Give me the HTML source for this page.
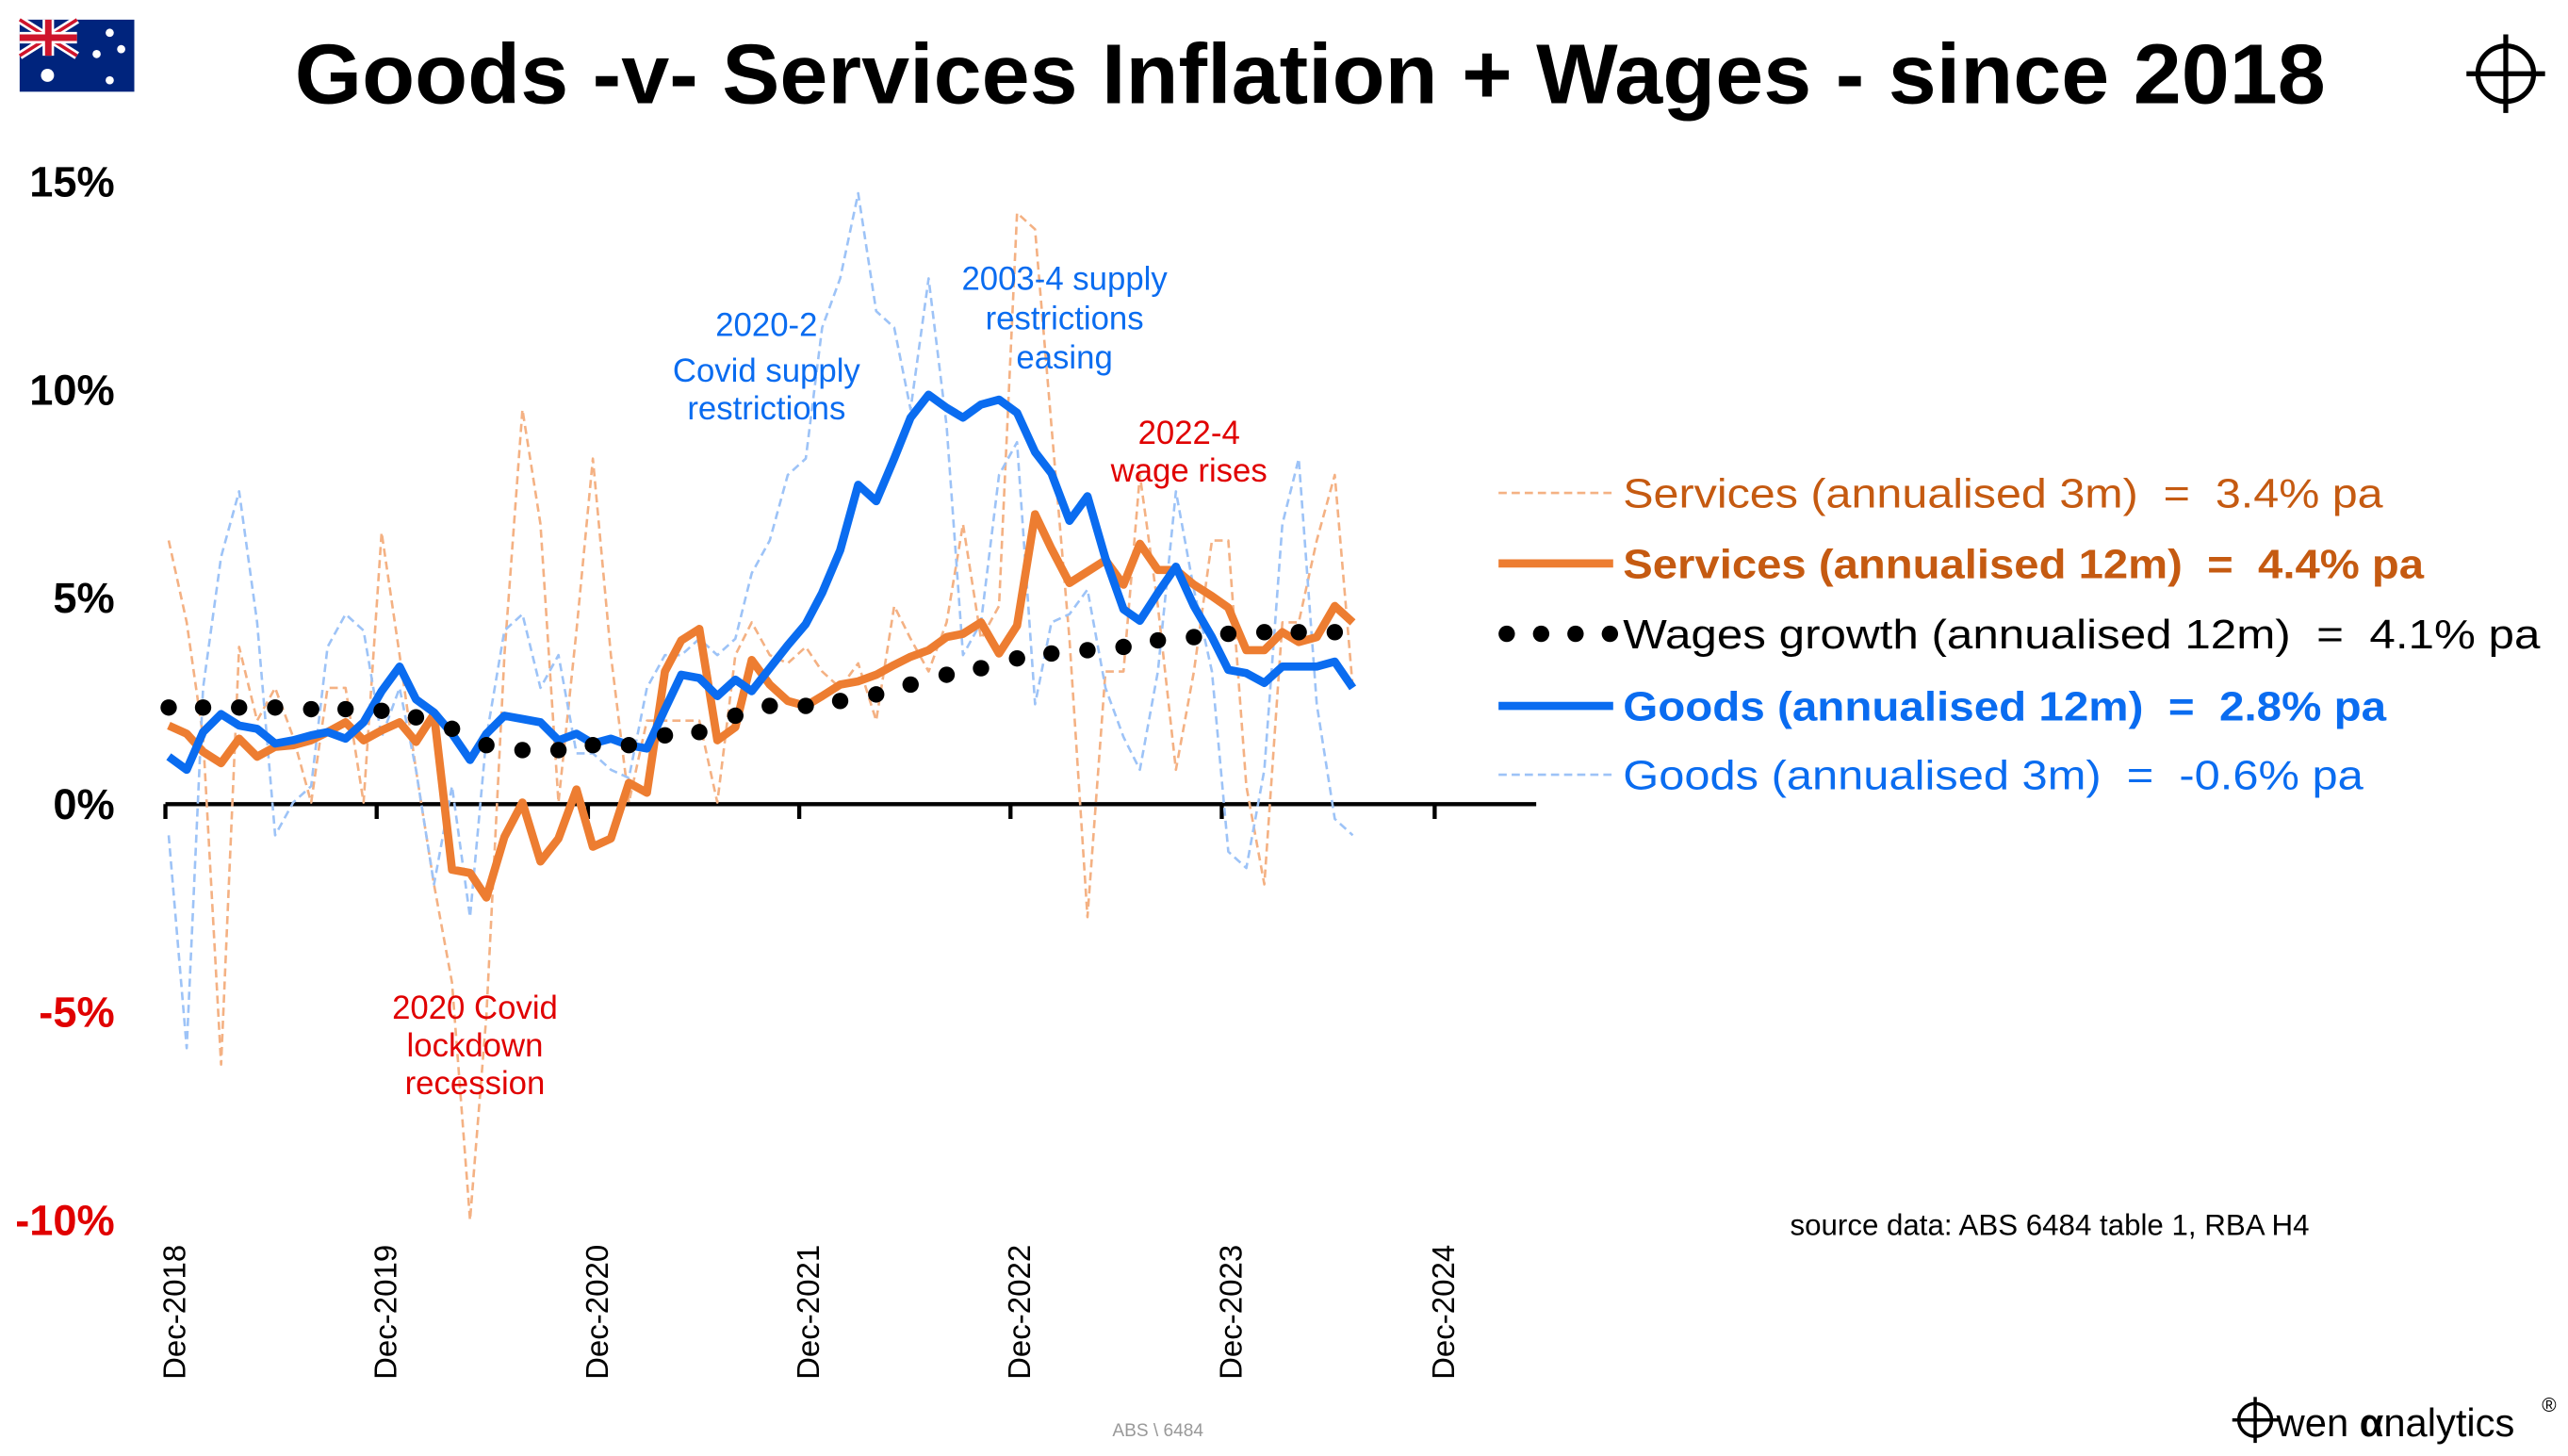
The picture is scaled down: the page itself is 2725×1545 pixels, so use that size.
<!DOCTYPE html>
<html><head><meta charset="utf-8"><style>
html,body{margin:0;padding:0;background:#fff;}
svg{display:block;}
text{white-space:pre;}
</style></head><body>
<svg width="2725" height="1545" viewBox="0 0 1568 889" xmlns="http://www.w3.org/2000/svg" font-family="'Liberation Sans', sans-serif" xml:space="preserve">
<rect width="1568" height="889" fill="#fff"/>
<g transform="translate(12,12)">
<rect width="70" height="44" fill="#00247d"/>
<path d="M0 0 L35 22 M35 0 L0 22" stroke="#fff" stroke-width="5"/>
<path d="M0 0 L35 22 M35 0 L0 22" stroke="#cf142b" stroke-width="2"/>
<path d="M17.5 0 V22 M0 11 H35" stroke="#fff" stroke-width="7"/>
<path d="M17.5 0 V22 M0 11 H35" stroke="#cf142b" stroke-width="4"/>
<g fill="#fff"><circle cx="17" cy="34" r="4"/><circle cx="55" cy="8" r="2.5"/><circle cx="47" cy="21" r="2.5"/><circle cx="62" cy="18" r="2.5"/><circle cx="55" cy="37" r="2.5"/></g>
</g>
<text x="180" y="63" font-size="52" font-weight="bold" textLength="1240" lengthAdjust="spacingAndGlyphs">Goods -v- Services Inflation + Wages - since 2018</text>
<g stroke="#000" stroke-width="3" fill="none"><circle cx="1530" cy="45" r="17"/><path d="M1506 45 H1554 M1530 21 V69"/></g>
<g font-size="26" font-weight="bold" text-anchor="end">
<text x="70" y="120">15%</text><text x="70" y="247">10%</text><text x="70" y="374">5%</text><text x="70" y="500">0%</text>
<text x="70" y="627" fill="#e00000">-5%</text><text x="70" y="754" fill="#e00000">-10%</text></g>
<g stroke="#000" stroke-width="2.5"><path d="M101 491 H938"/>
<path d="M101 491v9 M230 491v9 M359 491v9 M488 491v9 M617 491v9 M746 491v9 M876 491v9"/></g>
<g font-size="19" text-anchor="end">
<text transform="translate(113,760) rotate(-90)">Dec-2018</text>
<text transform="translate(242,760) rotate(-90)">Dec-2019</text>
<text transform="translate(371,760) rotate(-90)">Dec-2020</text>
<text transform="translate(500,760) rotate(-90)">Dec-2021</text>
<text transform="translate(629,760) rotate(-90)">Dec-2022</text>
<text transform="translate(758,760) rotate(-90)">Dec-2023</text>
<text transform="translate(888,760) rotate(-90)">Dec-2024</text></g>
<g fill="none" stroke-linejoin="round">
<polyline stroke="#f4b183" stroke-width="1.5" stroke-dasharray="5,3" points="103,330 114,380 124,450 135,650 146,395 157,440 168,420 179,450 190,490 200,420 211,420 222,490 233,325 244,400 254,470 265,540 276,600 287,745 297,620 308,400 319,250 330,320 341,490 352,385 362,280 373,400 384,490 395,440 406,440 416,440 427,440 438,490 449,400 459,380 470,400 481,405 492,395 502,410 513,420 524,405 535,440 546,370 556,390 567,410 578,380 588,320 599,390 610,370 621,130 632,140 642,260 653,390 664,560 675,410 686,410 696,290 707,370 718,470 729,410 740,330 750,330 761,480 772,540 783,380 793,380 804,330 815,290 826,420"/>
<polyline stroke="#9dc3f7" stroke-width="1.5" stroke-dasharray="5,3" points="103,510 114,640 124,420 135,340 146,300 157,380 168,510 179,490 190,480 200,395 211,375 222,385 233,450 244,420 254,470 265,540 276,480 287,560 297,450 308,385 319,375 330,420 341,400 352,460 362,460 373,470 384,475 395,420 406,400 416,400 427,390 438,400 449,390 459,350 470,330 481,290 492,280 502,200 513,170 524,118 535,190 546,200 556,250 567,170 578,260 588,400 599,380 610,290 621,270 632,430 642,380 653,375 664,360 675,420 686,450 696,470 707,410 718,300 729,360 740,410 750,520 761,530 772,470 783,320 793,280 804,430 815,500 826,510"/>
<polyline stroke="#ed7d31" stroke-width="5" points="103,443 114,448 124,459 135,466 146,451 157,462 168,456 179,455 190,452 200,447 211,441 222,452 233,446 244,441 254,453 265,436 276,531 287,533 297,548 308,511 319,490 330,526 341,512 352,482 362,517 373,512 384,478 395,484 406,410 416,391 427,384 438,452 449,444 459,403 470,418 481,428 492,431 502,425 513,418 524,416 535,412 546,406 556,401 567,397 578,389 588,387 599,380 610,399 621,382 632,314 642,335 653,356 664,349 675,342 686,357 696,332 707,348 718,348 729,357 740,364 750,371 761,397 772,397 783,386 793,392 804,389 815,370 826,380"/>
<polyline stroke="#0a6cf0" stroke-width="5" points="103,462 114,470 124,447 135,436 146,443 157,445 168,454 179,452 190,449 200,447 211,451 222,441 233,422 244,407 254,427 265,435 276,448 287,464 297,448 308,437 319,439 330,441 341,452 352,448 362,454 373,451 384,455 395,457 406,433 416,412 427,414 438,425 449,415 459,422 470,408 481,394 492,381 502,362 513,336 524,296 535,306 546,280 556,255 567,241 578,249 588,255 599,247 610,244 621,252 632,276 642,289 653,318 664,303 675,341 686,372 696,379 707,362 718,346 729,370 740,389 750,409 761,411 772,417 783,407 793,407 804,407 815,404 826,420"/>
</g>
<g fill="#000">
<circle cx="103" cy="432" r="5"/><circle cx="124" cy="432" r="5"/><circle cx="146" cy="432" r="5"/><circle cx="168" cy="432" r="5"/><circle cx="190" cy="433" r="5"/><circle cx="211" cy="433" r="5"/><circle cx="233" cy="434" r="5"/><circle cx="254" cy="438" r="5"/><circle cx="276" cy="445" r="5"/><circle cx="297" cy="455" r="5"/><circle cx="319" cy="458" r="5"/><circle cx="341" cy="458" r="5"/><circle cx="362" cy="455" r="5"/><circle cx="384" cy="455" r="5"/><circle cx="406" cy="449" r="5"/><circle cx="427" cy="447" r="5"/><circle cx="449" cy="437" r="5"/><circle cx="470" cy="431" r="5"/><circle cx="492" cy="431" r="5"/><circle cx="513" cy="428" r="5"/><circle cx="535" cy="424" r="5"/><circle cx="556" cy="418" r="5"/><circle cx="578" cy="412" r="5"/><circle cx="599" cy="408" r="5"/><circle cx="621" cy="402" r="5"/><circle cx="642" cy="399" r="5"/><circle cx="664" cy="397" r="5"/><circle cx="686" cy="395" r="5"/><circle cx="707" cy="391" r="5"/><circle cx="729" cy="389" r="5"/><circle cx="750" cy="387" r="5"/><circle cx="772" cy="386" r="5"/><circle cx="793" cy="386" r="5"/><circle cx="815" cy="386" r="5"/></g>
<g font-size="20" text-anchor="middle">
<g fill="#0a6cf0"><text x="468" y="205">2020-2</text><text x="468" y="233">Covid supply</text><text x="468" y="256">restrictions</text>
<text x="650" y="177">2003-4 supply</text><text x="650" y="201">restrictions</text><text x="650" y="225">easing</text></g>
<g fill="#e00000"><text x="726" y="271">2022-4</text><text x="726" y="294">wage rises</text>
<text x="290" y="622">2020 Covid</text><text x="290" y="645">lockdown</text><text x="290" y="668">recession</text></g></g>
<g font-size="25">
<path d="M915 301 H985" stroke="#f4b183" stroke-width="1.5" stroke-dasharray="5,3"/>
<text x="991" y="310" fill="#c55a11" textLength="464" lengthAdjust="spacingAndGlyphs">Services (annualised 3m)  =  3.4% pa</text>
<path d="M915 344 H985" stroke="#ed7d31" stroke-width="5"/>
<text x="991" y="353" fill="#c55a11" font-weight="bold" textLength="489" lengthAdjust="spacingAndGlyphs">Services (annualised 12m)  =  4.4% pa</text>
<g fill="#000"><circle cx="920" cy="387" r="5"/><circle cx="941" cy="387" r="5"/><circle cx="962" cy="387" r="5"/><circle cx="983" cy="387" r="5"/></g>
<text x="991" y="396" textLength="560" lengthAdjust="spacingAndGlyphs">Wages growth (annualised 12m)  =  4.1% pa</text>
<path d="M915 431 H985" stroke="#0a6cf0" stroke-width="5"/>
<text x="991" y="440" fill="#0a6cf0" font-weight="bold" textLength="466" lengthAdjust="spacingAndGlyphs">Goods (annualised 12m)  =  2.8% pa</text>
<path d="M915 473 H985" stroke="#9dc3f7" stroke-width="1.5" stroke-dasharray="5,3"/>
<text x="991" y="482" fill="#0a6cf0" textLength="452" lengthAdjust="spacingAndGlyphs">Goods (annualised 3m)  =  -0.6% pa</text>
</g>
<text x="1093" y="754" font-size="18">source data: ABS 6484 table 1, RBA H4</text>
<text x="707" y="877" font-size="11" fill="#999" text-anchor="middle">ABS \ 6484</text>
<g><circle cx="1377" cy="867" r="10" fill="none" stroke="#000" stroke-width="2"/><path d="M1363 867 H1391 M1377 853 V881" stroke="#000" stroke-width="2"/>
<text x="1390" y="877" font-size="24">wen <tspan font-weight="bold">α</tspan>nalytics</text><text x="1552" y="862" font-size="12">®</text></g>
</svg>
</body></html>
